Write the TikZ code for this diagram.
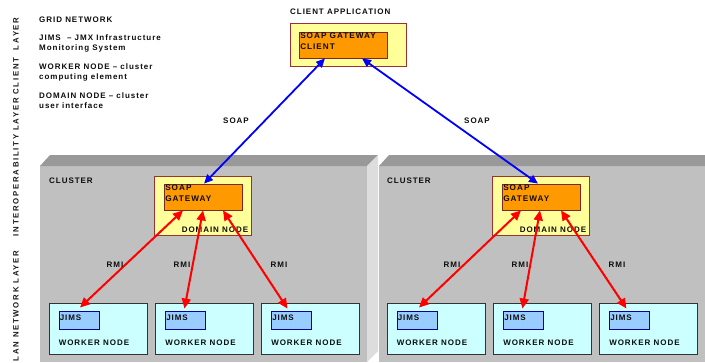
\documentclass[tikz,border=0pt]{standalone}
\usepackage{fontspec}
\setsansfont{Liberation Sans}[LetterSpace=12]
\newfontfamily\layerfont{Liberation Sans}[LetterSpace=22]
\usetikzlibrary{arrows.meta,positioning,calc}

\definecolor{clfront}{HTML}{C0C0C0}
\definecolor{cltop}{HTML}{999999}
\definecolor{clside}{HTML}{DDDDDD}
\definecolor{paleyellow}{HTML}{FFFF99}
\definecolor{brickred}{HTML}{993333}
\definecolor{gworange}{HTML}{FF9900}
\definecolor{workercyan}{HTML}{CCFFFF}
\definecolor{jimsblue}{HTML}{99CCFF}
\definecolor{navy}{HTML}{000099}

\begin{document}
\begin{tikzpicture}[x=1pt, y=-1pt,
    txt/.style={font=\fontsize{8}{10}\selectfont\sffamily\bfseries, text=black!95, inner sep=0pt},
    gwtxt/.style={font=\fontsize{8.2}{10.5}\selectfont\sffamily\bfseries, text=black!95, inner sep=0pt, align=left},
    layer/.style={font=\fontsize{7.8}{9}\selectfont\layerfont\bfseries, text=black!90, inner sep=0pt, rotate=90},
    outerbox/.style={draw=brickred, fill=paleyellow, line width=0.8pt, inner sep=0pt},
    gwbox/.style={draw=brickred!80!black, fill=gworange, line width=0.8pt, inner sep=0pt},
    worker/.style={draw=black!80, fill=workercyan, line width=0.9pt, minimum width=98pt, minimum height=51pt, inner sep=0pt},
    jims/.style={draw=navy, fill=jimsblue, line width=0.8pt, minimum width=40pt, minimum height=18pt, inner sep=0pt},
    soap/.style={{Triangle[length=9pt,width=8pt]}-{Triangle[length=9pt,width=8pt]}, draw=blue, line width=1.8pt},
    rmi/.style={{Triangle[length=10pt,width=9pt]}-{Triangle[length=10pt,width=9pt]}, draw=red, line width=2pt},
]
\useasboundingbox (0,0) rectangle (705,362);

% cluster blocks
\fill[clfront] (40,166) rectangle (367,362);
\fill[cltop] (40,166) -- (50,155) -- (378,155) -- (367,166) -- cycle;
\fill[clside] (367,166) -- (378,155) -- (378,351) -- (367,362) -- cycle;
\fill[clfront] (379,166) rectangle (705,362);
\fill[cltop] (379,166) -- (389,155) -- (705,155) -- (705,166) -- cycle;
\node[txt, anchor=west] (clL) at (49,181) {CLUSTER};
\node[txt, anchor=west] (clR) at (387,181) {CLUSTER};

% layers
\node[layer] (lyClient) at (16,56) {CLIENT\ \ LAYER};
\node[layer] (lyInterop) at (16,167) {INTEROPERABILITY LAYER};
\node[layer] (lyLan) at (16,306) {LAN NETWORK LAYER};

% legend
\node[txt, anchor=west] (lgGrid) at (39,20) {GRID NETWORK};
\node[txt, anchor=north west, align=left] (lgJims) at (39,35) {JIMS\ \ -- JMX Infrastructure\\Monitoring System};
\node[txt, anchor=north west, align=left] (lgWorker) at (39,64) {WORKER NODE -- cluster\\computing element};
\node[txt, anchor=north west, align=left] (lgDomain) at (39,93) {DOMAIN NODE -- cluster\\user interface};

% client side
\node[txt, anchor=west] (clientTitle) at (290,12) {CLIENT APPLICATION};
\node[outerbox, minimum width=116pt, minimum height=43pt] (clientOut) at (348,44.5) {};
\node[gwbox, minimum width=88pt, minimum height=26pt] (clientGw) at (343,45) {};
\node[gwtxt, anchor=north west] at ($(clientGw.north west)+(1.5,1)$) {SOAP GATEWAY\\CLIENT};

% domain nodes
\node[outerbox, minimum width=97pt, minimum height=59pt] (domL) at (202.5,205.5) {};
\node[gwbox, minimum width=78pt, minimum height=26pt] (gwL) at (203,197) {};
\node[gwtxt, anchor=north west] at ($(gwL.north west)+(1.5,1)$) {SOAP\\GATEWAY};
\node[txt, anchor=east] at ($(domL.south east)+(-3,-6)$) {DOMAIN NODE};

\node[outerbox, minimum width=97pt, minimum height=59pt] (domR) at (540.5,205.5) {};
\node[gwbox, minimum width=78pt, minimum height=26pt] (gwR) at (541,197) {};
\node[gwtxt, anchor=north west] at ($(gwR.north west)+(1.5,1)$) {SOAP\\GATEWAY};
\node[txt, anchor=east] at ($(domR.south east)+(-3,-6)$) {DOMAIN NODE};

% worker nodes
\foreach \n/\x in {1/98,2/204.5,3/310.5,4/436,5/542.5,6/648.5} {
  \node[worker] (w\n) at (\x,328.5) {};
  \node[jims, anchor=north west] (j\n) at ($(w\n.north west)+(10,8)$) {};
  \node[txt, anchor=west] at ($(j\n.west)+(1,-2.5)$) {JIMS};
  \node[txt, anchor=west] at ($(w\n.south west)+(10,-12)$) {WORKER NODE};
}

% SOAP links
\draw[soap] ([xshift=-18pt]clientGw.south) -- ([xshift=1pt]gwL.north);
\draw[soap] ([xshift=19pt]clientGw.south) -- ([xshift=-3pt]gwR.north);
\node[txt] (soapL) at (236,121) {SOAP};
\node[txt] (soapR) at (477,121) {SOAP};

% RMI links
\draw[rmi] ([xshift=-20pt]gwL.south) -- ([xshift=1pt,yshift=3pt]j1.north);
\draw[rmi] (gwL.south) -- ([xshift=-1pt,yshift=2pt]j2.north);
\draw[rmi] ([xshift=20pt]gwL.south) -- ([xshift=-4pt,yshift=2pt]j3.north);
\draw[rmi] ([xshift=-20pt]gwR.south) -- ([xshift=2pt,yshift=3pt]j4.north);
\draw[rmi] ([xshift=-1pt]gwR.south) -- ([xshift=-1pt,yshift=2pt]j5.north);
\draw[rmi] ([xshift=20pt]gwR.south) -- ([xshift=-3pt,yshift=2pt]j6.north);
\node[txt] (rmi1) at (115,265) {RMI};
\node[txt] (rmi2) at (182,265) {RMI};
\node[txt] (rmi3) at (279,265) {RMI};
\node[txt] (rmi4) at (452,265) {RMI};
\node[txt] (rmi5) at (520,265) {RMI};
\node[txt] (rmi6) at (617,265) {RMI};

\end{tikzpicture}
\end{document}
